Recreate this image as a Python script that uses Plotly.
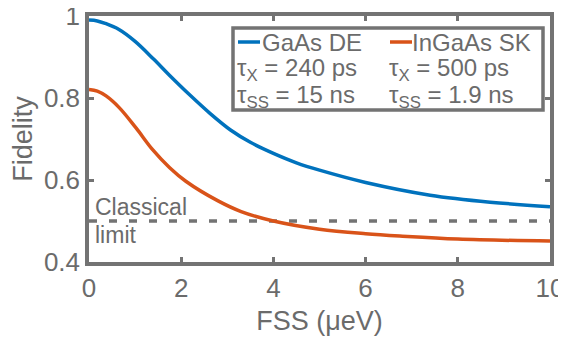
import plotly.graph_objects as go

# Data
fss_de = [0, 0.18, 0.35, 0.65, 1.0, 1.4, 1.75, 2.2, 2.63, 3.07, 3.5, 4.0, 4.5, 5.0, 6.0, 7.4, 8.7, 10]
fid_gaas_de = [0.990, 0.988, 0.982, 0.967, 0.938, 0.895, 0.855, 0.806, 0.762, 0.722, 0.692, 0.665, 0.642, 0.624, 0.594, 0.563, 0.546, 0.535]
fss_sk = [0, 0.18, 0.37, 0.66, 1.02, 1.38, 1.75, 2.1, 2.8, 3.3, 4.0, 5.0, 6.0, 6.8, 8.0, 10]
fid_ingaas_sk = [0.821, 0.817, 0.805, 0.776, 0.727, 0.674, 0.630, 0.597, 0.549, 0.523, 0.500, 0.480, 0.469, 0.463, 0.456, 0.451]
classical_limit = 0.5
x_ticks = [0, 2, 4, 6, 8, 10]
y_ticks = [0.4, 0.6, 0.8, 1.0]
y_tick_labels = ["0.4", "0.6", "0.8", "1"]

BLUE = "#0072BD"
ORANGE = "#D95319"
GRAY = "#737373"
TXT = "#6b6b6b"
FONT = "Liberation Sans, Arial, sans-serif"

fig = go.Figure()
fig.add_trace(go.Scatter(x=[0, 10], y=[classical_limit, classical_limit], mode="lines",
                         line=dict(color=GRAY, width=3.5, dash="8px,12px"), hoverinfo="skip"))
fig.add_trace(go.Scatter(x=fss_de, y=fid_gaas_de, mode="lines", name="GaAs DE",
                         line=dict(color=BLUE, width=3.5, shape="spline", smoothing=1.0)))
fig.add_trace(go.Scatter(x=fss_sk, y=fid_ingaas_sk, mode="lines", name="InGaAs SK",
                         line=dict(color=ORANGE, width=3.5, shape="spline", smoothing=1.0)))

axis_common = dict(showline=True, linecolor=GRAY, linewidth=3.5, mirror="ticks",
                   ticks="inside", ticklen=5, tickwidth=3, tickcolor=GRAY,
                   showgrid=False, zeroline=False, automargin=False,
                   ticklabeloverflow="allow",
                   tickfont=dict(family=FONT, size=26, color=TXT))

fig.update_xaxes(range=[0, 10], tickvals=x_ticks, **axis_common,
                 title=dict(text="FSS (μeV)", font=dict(family=FONT, size=27, color=TXT), standoff=10))
fig.update_yaxes(range=[0.4, 1.0], tickvals=y_ticks, ticktext=y_tick_labels, **axis_common,
                 title=dict(text="Fidelity", font=dict(family=FONT, size=27, color=TXT), standoff=4))

# Legend box (manual); positions given in page pixels relative to the plot area
def px_x(p):
    return (p - 89) / 461

def px_y(p):
    return (262 - p) / 246

fig.add_shape(type="rect", xref="paper", yref="paper",
              x0=px_x(233), x1=px_x(543), y0=px_y(110), y1=px_y(28),
              line=dict(color=GRAY, width=3.5), fillcolor="white", layer="above")
for x0, col in [(238, BLUE), (390, ORANGE)]:
    fig.add_shape(type="line", xref="paper", yref="paper",
                  x0=px_x(x0), x1=px_x(x0 + 22), y0=px_y(42), y1=px_y(42),
                  line=dict(color=col, width=3.5), layer="above")

def ann(text, xpx, ypx, size=24):
    fig.add_annotation(text=text, xref="paper", yref="paper",
                       x=px_x(xpx), y=px_y(ypx),
                       xanchor="left", yanchor="middle", showarrow=False,
                       xshift=-1, font=dict(family=FONT, size=size, color=TXT))

ann("GaAs DE", 261, 42)
ann("InGaAs SK", 411, 42)
ann("τ<sub>X</sub> = 240 ps", 236, 70)
ann("τ<sub>X</sub> = 500 ps", 388, 70)
ann("τ<sub>SS</sub> = 15 ns", 236, 96)
ann("τ<sub>SS</sub> = 1.9 ns", 388, 96)
ann("Classical", 94, 207, 23)
ann("limit", 94, 235, 23)

# the page body adds an 8px offset, so margins are shifted accordingly
fig.update_layout(width=566, height=343, margin=dict(l=81, r=24, t=8, b=89),
                  plot_bgcolor="white", paper_bgcolor="white", showlegend=False)

fig.write_html("out.html")
